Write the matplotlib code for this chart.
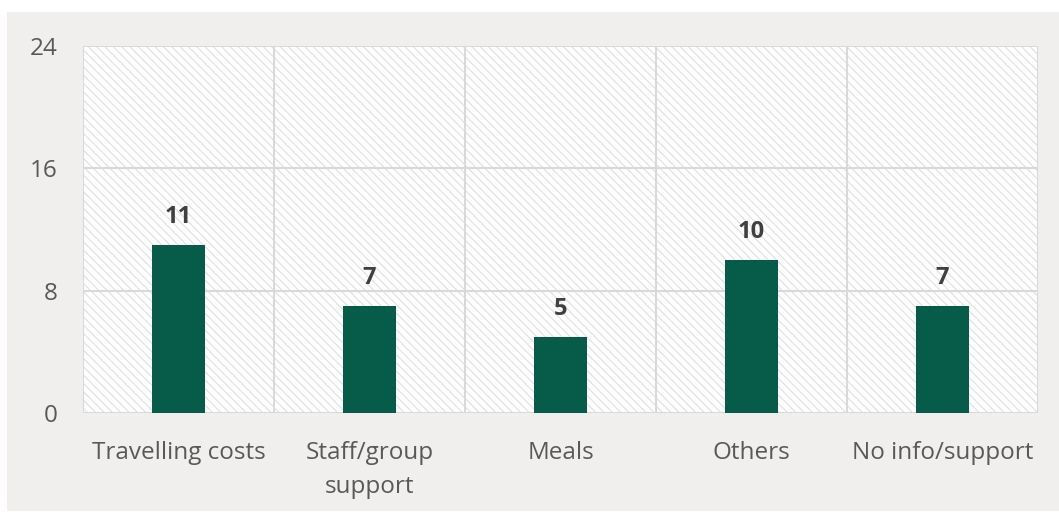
import matplotlib.pyplot as plt
from matplotlib.patches import Rectangle

categories = ['Travelling costs', 'Staff/group\nsupport', 'Meals', 'Others', 'No info/support']
values = [11, 7, 5, 10, 7]
y_ticks = [0, 8, 16, 24]

W, H = 1059, 513
plt.rcParams['font.family'] = ['Open Sans', 'DejaVu Sans']
plt.rcParams['hatch.linewidth'] = 0.8

fig = plt.figure(figsize=(W / 100, H / 100), dpi=100, facecolor='white')

# fondo gris del grafico
fig.patches.append(Rectangle((7 / W, 2 / H), 1 - 7 / W, 1 - 14 / H,
                             transform=fig.transFigure, facecolor='#f0efee',
                             edgecolor='none', zorder=-10))

ax = fig.add_axes([83 / W, 1 - 413 / H, (1038 - 83) / W, (413 - 46) / H])
ax.set_facecolor('white')
ax.add_patch(Rectangle((0, 0), 1, 1, transform=ax.transAxes, facecolor='white',
                       edgecolor='#e0e0e0', linewidth=0, hatch='\\\\\\\\', zorder=0))

x = list(range(len(categories)))
ax.bar(x, values, width=0.28, color='#065b49', zorder=3)

for xi, v in zip(x, values):
    ax.annotate(str(v), (xi, v), xytext=(0, 11.5), textcoords='offset points',
                ha='center', va='bottom', fontsize=17, fontweight='bold', color='#404040')

ax.set_xlim(-0.5, len(categories) - 0.5)
ax.set_ylim(0, 24)
ax.set_yticks(y_ticks)
ax.set_xticks(x)
ax.set_xticklabels(categories, fontsize=17.5, color='#595959', linespacing=1.55)
ax.tick_params(axis='y', labelsize=17.5, labelcolor='#595959', length=0, pad=18)
ax.tick_params(axis='x', length=0, pad=20)

# lineas de la cuadricula
for yt in y_ticks:
    ax.axhline(yt, color='#d9d9d9', linewidth=1.5, zorder=1)
for b in [i - 0.5 for i in range(len(categories) + 1)]:
    ax.axvline(b, color='#d9d9d9', linewidth=1.5, zorder=1)
for s in ax.spines.values():
    s.set_visible(False)

fig.savefig('out.png', dpi=100, facecolor=fig.get_facecolor())
